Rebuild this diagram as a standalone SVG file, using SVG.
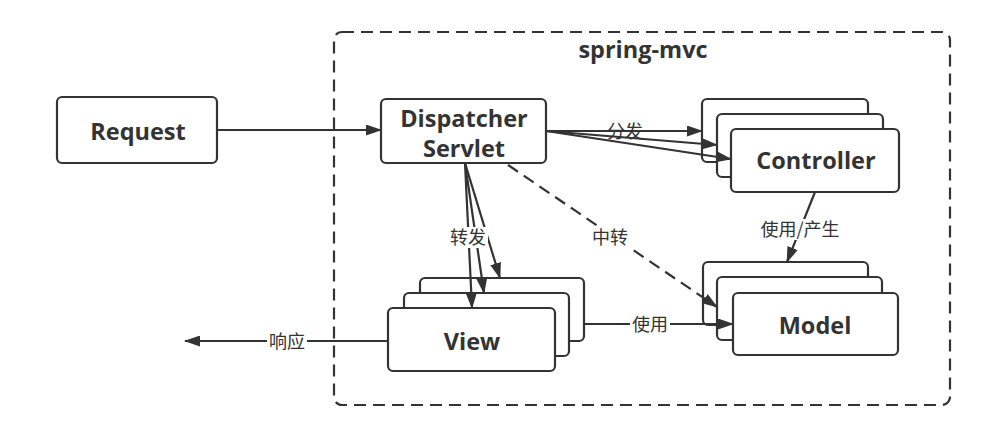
<svg xmlns="http://www.w3.org/2000/svg" width="989" height="427" viewBox="0 0 989 427">
<style>
.box{fill:#fff;stroke:#333;stroke-width:2.2}
.t{font-family:"Open Sans","Noto Sans","Liberation Sans",sans-serif;font-weight:bold;font-size:23.5px;fill:#333;text-anchor:middle}
.lbl{font-family:"Noto Sans CJK SC","Noto Sans",sans-serif;font-size:18px;fill:#333;text-anchor:middle}
.c{fill:none;stroke:#333;stroke-width:2.2}
.bg{fill:#fff}
</style>
<defs>
<marker id="ah" viewBox="0 0 16 11" refX="15" refY="5.5" markerWidth="16" markerHeight="11" markerUnits="userSpaceOnUse" orient="auto">
<path d="M0,0 L16,5.5 L0,11 Z" fill="#333"/>
</marker>
</defs>
<rect width="989" height="427" fill="#fff"/>
<g id="container">
<rect x="334" y="32" width="616" height="373" rx="8" fill="none" stroke="#333" stroke-width="2.2" stroke-dasharray="12,7"/>
<text x="643" y="58" class="t">spring-mvc</text>
</g>
<g id="request">
<rect class="box" x="57" y="97" width="160" height="66" rx="5"/>
<text x="138" y="140" class="t">Request</text>
</g>
<g id="dispatcher">
<rect class="box" x="381" y="99" width="165" height="64" rx="5"/>
<text x="464" y="127" class="t">Dispatcher</text>
<text x="464" y="157" class="t">Servlet</text>
</g>
<g id="controller">
<rect class="box" x="702" y="99" width="166" height="63" rx="5"/>
<rect class="box" x="717" y="114" width="166" height="63" rx="5"/>
<rect class="box" x="731" y="129" width="168" height="63" rx="5"/>
<text x="816" y="169" class="t">Controller</text>
</g>
<g id="model">
<rect class="box" x="703" y="262" width="165" height="63" rx="5"/>
<rect class="box" x="717" y="277" width="165" height="63" rx="5"/>
<rect class="box" x="733" y="293" width="165" height="62" rx="5"/>
<text x="815" y="334" class="t">Model</text>
</g>
<g id="view">
<rect class="box" x="420" y="278" width="164" height="63" rx="5"/>
<rect class="box" x="404" y="293" width="165" height="63" rx="5"/>
<rect class="box" x="388" y="308" width="167" height="63" rx="5"/>
<text x="472" y="350" class="t">View</text>
</g>
<g id="connectors">
<path class="c" d="M217,130 L381,130" marker-end="url(#ah)"/>
<path class="c" d="M546,131 L702,131" marker-end="url(#ah)"/>
<path class="c" d="M546,131 L717,145" marker-end="url(#ah)"/>
<path class="c" d="M546,131 L731,159" marker-end="url(#ah)"/>
<rect class="bg" x="605" y="122" width="40" height="8"/>
<text x="625" y="138" class="lbl">分发</text>
<path class="c" d="M465,163 L472,308" marker-end="url(#ah)"/>
<path class="c" d="M465,163 L484,293" marker-end="url(#ah)"/>
<path class="c" d="M465,163 L500,278" marker-end="url(#ah)"/>
<rect class="bg" x="448" y="227" width="40" height="21"/>
<text x="468" y="244" class="lbl">转发</text>
<path class="c" d="M508,165 L717,307" stroke-dasharray="12,7" marker-end="url(#ah)"/>
<rect class="bg" x="590" y="227" width="40" height="21"/>
<text x="610" y="244" class="lbl">中转</text>
<path class="c" d="M815,192 L787,262" marker-end="url(#ah)"/>
<rect class="bg" x="750" y="219" width="100" height="21"/>
<text x="800" y="236" class="lbl">使用/产生</text>
<path class="c" d="M584,324 L733,324" marker-end="url(#ah)"/>
<rect class="bg" x="630" y="314" width="40" height="19"/>
<text x="650" y="331" class="lbl">使用</text>
<path class="c" d="M388,341 L185,341" marker-end="url(#ah)"/>
<rect class="bg" x="267" y="331" width="40" height="19"/>
<text x="287" y="348" class="lbl">响应</text>
</g>
</svg>
